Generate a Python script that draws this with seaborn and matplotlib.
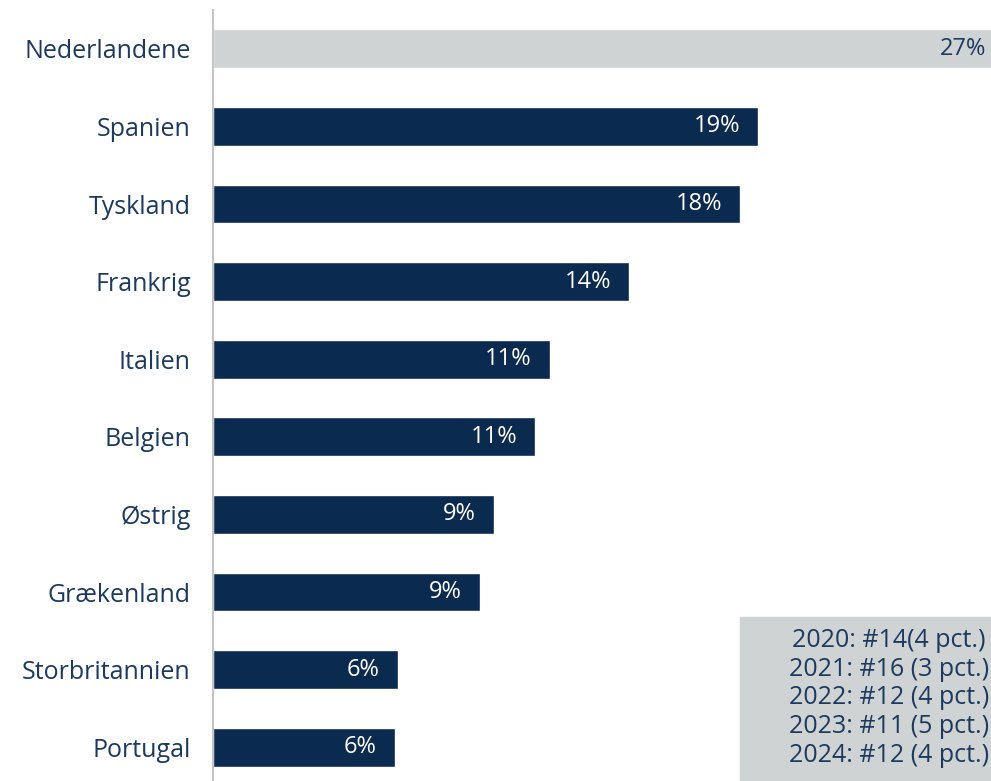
import matplotlib
matplotlib.use("Agg")
from matplotlib import pyplot as plt
from matplotlib.patches import Rectangle
import pandas as pd
import seaborn as sns

# data
countries = ["Nederlandene", "Spanien", "Tyskland", "Frankrig", "Italien",
             "Belgien", "Østrig", "Grækenland", "Storbritannien", "Portugal"]
shares = [27.0, 18.6, 18.0, 14.2, 11.5, 11.0, 9.6, 9.1, 6.3, 6.2]
labels = ["27%", "19%", "18%", "14%", "11%", "11%", "9%", "9%", "6%", "6%"]
history = ["2020: #14(4 pct.)", "2021: #16 (3 pct.)", "2022: #12 (4 pct.)",
           "2023: #11 (5 pct.)", "2024: #12 (4 pct.)"]

NAVY = "#0b2a4f"
GREY = "#d0d3d4"
TEXT = "#1b3a5e"

sns.set_style("white")
plt.rcParams["font.family"] = ["Open Sans", "DejaVu Sans"]

df = pd.DataFrame({"country": countries, "share": shares})
colors = [GREY] + [NAVY] * (len(countries) - 1)

W, H = 991, 781
fig = plt.figure(figsize=(W / 100, H / 100), dpi=100)
ax = fig.add_axes([213 / W, -5 / H, (W - 213) / W, 776 / H])

sns.barplot(data=df, y="country", x="share", hue="country", palette=colors,
            legend=False, width=0.5, ax=ax, saturation=1)

ax.set_xlim(0, (W - 213) / 29.3)
ax.set_ylim(len(countries) - 0.5, -0.5)
ax.set(xlabel="", ylabel="")
ax.set_xticks([])
ax.tick_params(axis="y", length=0, pad=16, labelsize=18, labelcolor=TEXT)
for s in ["top", "right", "bottom"]:
    ax.spines[s].set_visible(False)
ax.spines["left"].set_color("#c4c4c4")
ax.spines["left"].set_linewidth(1.5)

for i, (v, lab) in enumerate(zip(shares, labels)):
    col = TEXT if i == 0 else "white"
    ax.annotate(lab, xy=(v, i), xytext=(-13, 0), textcoords="offset points",
                ha="right", va="center", fontsize=17, color=col,
                annotation_clip=False)

# info box in lower right corner
fig.patches.append(Rectangle((740 / W, 0), (W - 740) / W, 164 / H,
                             transform=fig.transFigure, color=GREY, zorder=5))
fig.text(889 / W, 83 / H, "\n".join(history), ha="center", va="center",
         multialignment="center", fontsize=18, color=TEXT, zorder=6,
         linespacing=1.2)

fig.savefig("out.png", dpi=100)
